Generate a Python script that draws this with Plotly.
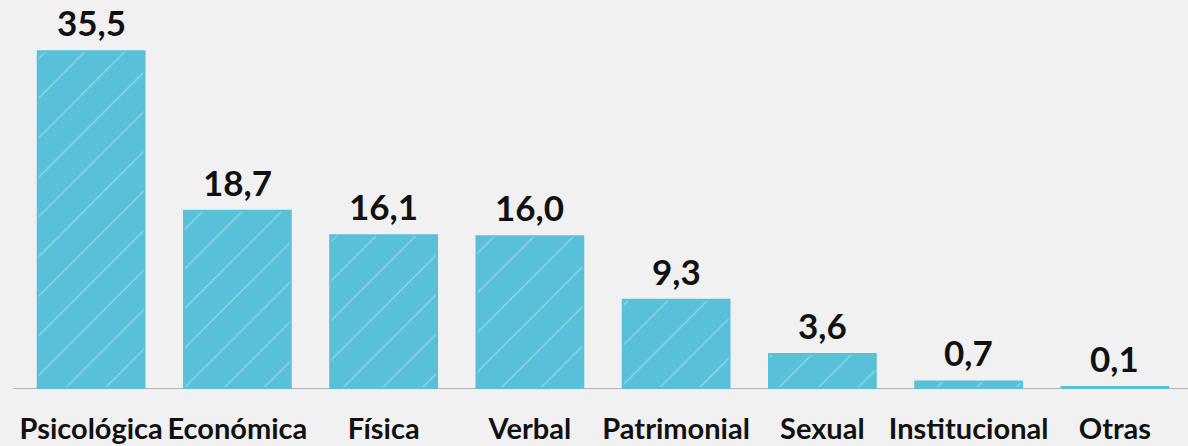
import plotly.graph_objects as go

# Tipos de violencia (%)
categories = ["Psicológica", "Económica", "Física", "Verbal", "Patrimonial",
              "Sexual", "Institucional", "Otras"]
values = [35.5, 18.7, 16.1, 16.0, 9.3, 3.6, 0.7, 0.1]
value_labels = ["35,5", "18,7", "16,1", "16,0", "9,3", "3,6", "0,7", "0,1"]

BAR_COLOR = "#58c0d8"
BG = "#f1f1f1"
FONT = "Lato"

fig = go.Figure()

fig.add_trace(go.Bar(
    x=categories,
    y=values,
    width=0.73,
    marker=dict(
        color=BAR_COLOR,
        line=dict(width=2, color=BAR_COLOR),
        pattern=dict(shape="/", size=28, solidity=0.05,
                     fgcolor="rgba(255,255,255,0.7)", fillmode="overlay"),
    ),
    hoverinfo="skip",
))

# value labels above each bar
for cat, val, lab in zip(categories, values, value_labels):
    fig.add_annotation(
        x=cat, y=val, text=lab, showarrow=False,
        yanchor="bottom", yshift=6,
        font=dict(family=FONT, size=35, color="#111111", weight="bold"),
    )

# baseline, drawn just under the bars
fig.add_shape(type="line", xref="paper", yref="y", layer="below",
              x0=-0.004, x1=1, y0=-0.12, y1=-0.12,
              line=dict(color="#9e9e9e", width=2))

fig.update_layout(
    width=1188, height=446,
    margin=dict(l=18, r=0, t=0, b=57),
    paper_bgcolor=BG, plot_bgcolor=BG,
    showlegend=False,
    xaxis=dict(
        showgrid=False, zeroline=False, showline=False,
        ticks="", ticklabelstandoff=20,
        tickfont=dict(family=FONT, size=29, color="#111111", weight="bold"),
    ),
    yaxis=dict(range=[-0.1, 40.9], visible=False, showgrid=False, zeroline=False),
)

fig.write_html("out.html")
